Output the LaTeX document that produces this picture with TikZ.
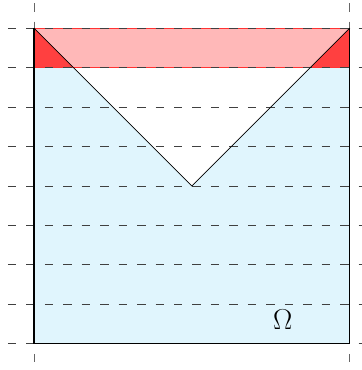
\documentclass[tikz,border=0pt]{standalone}
\begin{document}
\begin{tikzpicture}[x=1cm,y=1cm,
  grid/.style={black!75,line width=0.7pt,dash pattern=on 6.1pt off 7.2pt},
  vgrid/.style={black!60,line width=0.6pt,dash pattern=on 6.1pt off 7.2pt},
  edge/.style={black,line width=0.8pt},
  vline/.style={black,line width=0.5pt}]
\useasboundingbox (-0.86,-0.66) rectangle (8.30,8.71);
% coordinates
\coordinate (A) at (0,0);
\coordinate (B) at (8,0);
\coordinate (C) at (8,8);
\coordinate (D) at (0,8);
\coordinate (L7) at (0,7);
\coordinate (R7) at (8,7);
\coordinate (P) at (1,7);
\coordinate (Q) at (7,7);
\coordinate (V) at (4,4);
% fills
\fill[cyan!12] (A) -- (B) -- (R7) -- (Q) -- (V) -- (P) -- (L7) -- cycle;
\fill[red!28] (D) -- (C) -- (Q) -- (P) -- cycle;
\fill[red!75] (D) -- (P) -- (L7) -- cycle;
\fill[red!75] (C) -- (R7) -- (Q) -- cycle;
\draw[red!80,line width=0.4pt] (L7) -- (R7);
\draw[red!80,line width=0.4pt] (D) -- (C);
% grid lines
\foreach \y in {0,...,8} \draw[grid] (-0.66,\y) -- (8.30,\y);
\draw[vgrid] (0,8.63) -- (0,-0.5);
\draw[vgrid] (8,8.63) -- (8,-0.5);
% box edges
\draw[edge] (D) -- (A) -- (B) -- (C);
% V lines
\draw[vline] (D) -- (V) -- (C);
\node[font=\fontsize{20}{24}\selectfont] (om) at (6.3,0.62) {$\Omega$};
\end{tikzpicture}
\end{document}
